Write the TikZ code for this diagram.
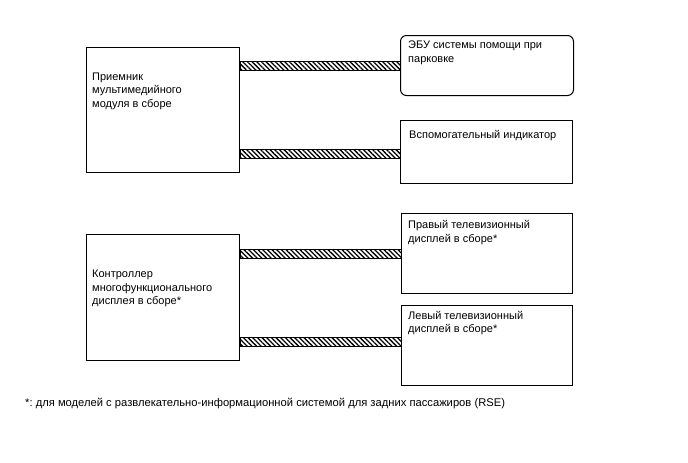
\documentclass[tikz,border=0pt]{standalone}
\usepackage{fontspec}
\setmainfont{Liberation Sans}
\frenchspacing
\usetikzlibrary{patterns.meta}
\tikzset{
  unitbox/.style={draw=black, line width=1pt, anchor=north west, inner sep=0pt},
  unittext/.style={anchor=north west, inner sep=0pt, align=left, font=\fontsize{11}{13.5}\selectfont},
  harness/.style={draw=black, line width=0.8pt, pattern={Lines[angle=-45,distance=3.3pt,line width=1.3pt]}}
}
\begin{document}
\begin{tikzpicture}[x=1pt,y=-1pt]
\useasboundingbox (0,0) rectangle (688,463);

% left units
\node[unitbox, minimum width=153pt, minimum height=125pt] (recv) at (86,47) {};
\node[unittext] (recv-txt) at (92,72.7) {Приемник\\мультимедийного\\модуля в сборе};

\node[unitbox, minimum width=153pt, minimum height=126pt] (mfd) at (86,234) {};
\node[unittext] (mfd-txt) at (92,270.2) {Контроллер\\многофункционального\\дисплея в сборе*};

% right units
\node[unitbox, rounded corners=6pt, minimum width=173pt, minimum height=60pt] (ebu) at (400,35) {};
\node[unittext] (ebu-txt) at (408,40.7) {ЭБУ системы помощи при\\парковке};

\node[unitbox, minimum width=172pt, minimum height=63pt] (aux) at (400,120) {};
\node[unittext] (aux-txt) at (409,130.2) {Вспомогательный индикатор};

\node[unitbox, minimum width=171pt, minimum height=80pt] (rtv) at (401,213) {};
\node[unittext] (rtv-txt) at (408,220.2) {Правый телевизионный\\дисплей в сборе*};

\node[unitbox, minimum width=171pt, minimum height=80pt] (ltv) at (401,305) {};
\node[unittext] (ltv-txt) at (408,311) {Левый телевизионный\\дисплей в сборе*};

% harnesses
\draw[harness] (recv.east |- 0,61) rectangle (ebu.west |- 0,70);
\draw[harness] (recv.east |- 0,149) rectangle (aux.west |- 0,158);
\draw[harness] (mfd.east |- 0,249) rectangle (rtv.west |- 0,258);
\draw[harness] (mfd.east |- 0,337) rectangle (ltv.west |- 0,346);

\node[unittext, font=\fontsize{11.2}{13.5}\selectfont] (note) at (25,398) {*: для моделей с развлекательно-информационной системой для задних пассажиров (RSE)};
\end{tikzpicture}
\end{document}
